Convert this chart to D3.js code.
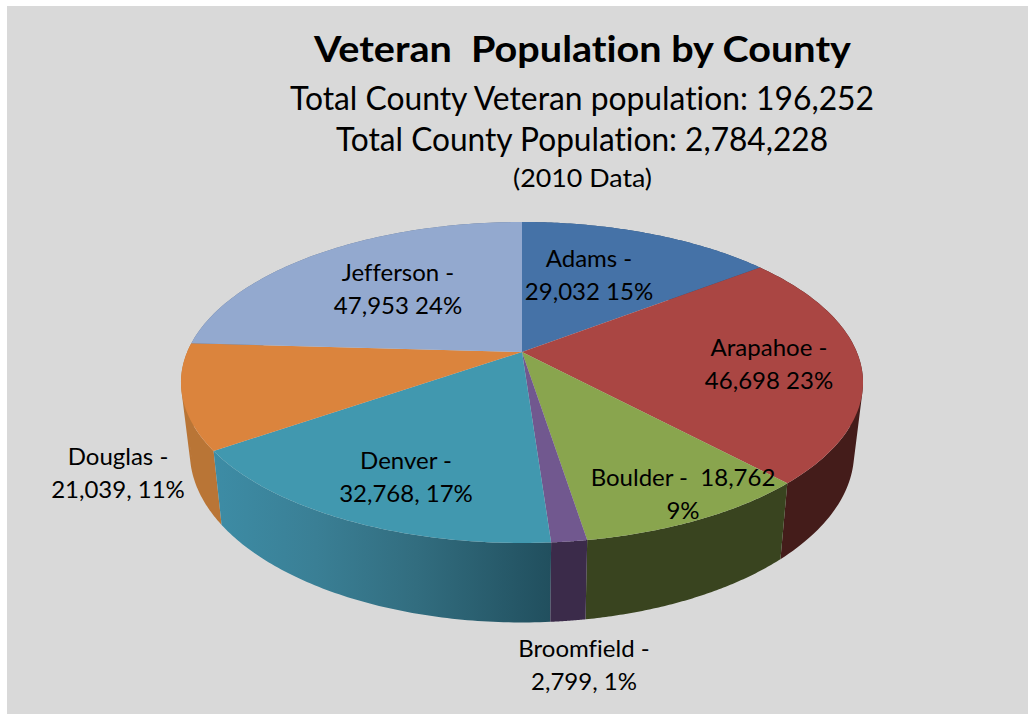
<!DOCTYPE html>
<html>
<head>
<meta charset="utf-8">
<title>Veteran Population by County</title>
<script src="https://cdn.jsdelivr.net/npm/d3@7/dist/d3.min.js"></script>
<style>
  html, body { margin: 0; padding: 0; background: #fff; }
  svg { display: block; }
  text { font-family: Lato, "Open Sans", sans-serif; fill: #000; font-variant-ligatures: none; }
</style>
</head>
<body>
<svg id="chart" width="1028" height="714"></svg>
<script>
// County veteran counts, clockwise from twelve o'clock
const counties = ["Adams", "Arapahoe", "Boulder", "Broomfield", "Denver", "Douglas", "Jefferson"];
const veterans = [29032, 46698, 18762, 2799, 32768, 21039, 47953];

// Slice label text, one entry per line
const labelLines = [
  ["Adams -", "29,032 15%"],
  ["Arapahoe -", "46,698 23%"],
  ["Boulder -  18,762", "9%"],
  ["Broomfield -", "2,799, 1%"],
  ["Denver -", "32,768, 17%"],
  ["Douglas -", "21,039, 11%"],
  ["Jefferson -", "47,953 24%"]
];

const titleLines = [
  "Veteran  Population by County",
  "Total County Veteran population: 196,252",
  "Total County Population: 2,784,228",
  "(2010 Data)"
];

// Styling and layout, kept apart from the values
const topColours = ["#4572A7", "#AA4643", "#89A54E", "#71588F", "#4198AF", "#DB843D", "#93A9CF"];
const sideColours = ["#2f4e74", "#441c1a", "#39441f", "#3b2b4a", null, "#b97536", "#66768f"];
const labelAnchors = [[589, 267], [769, 356], [683, 486], [584, 657], [406, 469], [118, 465], [398, 281]];
const titleStyles = [
  { x: 582.5, y: 62, size: 37, weight: 700, width: 537 },
  { x: 582, y: 110, size: 32, weight: 400, width: 584 },
  { x: 582, y: 151, size: 32, weight: 400, width: 492 },
  { x: 582.5, y: 187, size: 25, weight: 400, width: 139 }
];

const svg = d3.select("#chart");

// Grey panel behind everything
svg.append("rect").attr("x", 7).attr("y", 6).attr("width", 1021).attr("height", 708).attr("fill", "#d9d9d9");

// Perspective projection of the pie disc: near edge is drawn larger than far edge
const apex = { x: 522, y: 352 };
const tilt = 0.19, spreadX = 334.8, spreadY = 154.7;

function projectTop(a) {
  const X = Math.sin(a), Y = -Math.cos(a);
  const w = 1 - tilt * Y;
  return [apex.x + spreadX * X / w, apex.y + spreadY * Y / w];
}
// Lower rim of the extruded disc
const lowerBase = 420, lowerScaleX = 0.974, lowerScaleY = 1.06;
function projectBottom(a) {
  const [x, y] = projectTop(a);
  return [apex.x + (x - apex.x) * lowerScaleX, lowerBase + (y - apex.y) * lowerScaleY];
}

const arcAngles = (s, e) => d3.range(0, 81).map(i => s + (e - s) * i / 80);
const line = d3.line();
const slices = d3.pie().sort(null).value(d => d)(veterans);

// A wall is a run of small quads, each wound the same way so the fill has no holes
function wallPath(s) {
  const angs = arcAngles(s.startAngle, s.endAngle);
  return d3.pairs(angs).map(([a, b]) => {
    const quad = [projectTop(a), projectTop(b), projectBottom(b), projectBottom(a)];
    if (d3.polygonArea(quad) < 0) quad.reverse();
    return line(quad) + "Z";
  }).join("");
}

// Denver's wall darkens from left to right
const defs = svg.append("defs");
const wallGrad = defs.append("linearGradient").attr("id", "denverWall")
  .attr("gradientUnits", "userSpaceOnUse")
  .attr("x1", 215).attr("x2", 551).attr("y1", 0).attr("y2", 0);
[[0, "#3d8ca5"], [0.3, "#3a7f95"], [0.6, "#326d7f"], [1, "#214f5e"]].forEach(([o, c]) =>
  wallGrad.append("stop").attr("offset", o).attr("stop-color", c));

// Walls first, farthest from the viewer at the back
const wallOrder = slices.map((s, i) => ({ s, i }))
  .sort((p, q) => projectTop((p.s.startAngle + p.s.endAngle) / 2)[1] - projectTop((q.s.startAngle + q.s.endAngle) / 2)[1]);

svg.append("g").attr("class", "walls").selectAll("path").data(wallOrder).join("path")
  .attr("d", ({ s }) => wallPath(s))
  .attr("fill", ({ i }) => sideColours[i] || "url(#denverWall)");

// Top face wedges
svg.append("g").attr("class", "wedges").selectAll("path").data(slices).join("path")
  .attr("d", s => line([[apex.x, apex.y]].concat(arcAngles(s.startAngle, s.endAngle).map(projectTop))) + "Z")
  .attr("fill", (s, i) => topColours[i]);

// Heading block
svg.append("g").selectAll("text").data(titleLines).join("text")
  .attr("text-anchor", "middle")
  .attr("x", (d, i) => titleStyles[i].x)
  .attr("y", (d, i) => titleStyles[i].y)
  .attr("font-size", (d, i) => titleStyles[i].size)
  .attr("font-weight", (d, i) => titleStyles[i].weight)
  .attr("textLength", (d, i) => titleStyles[i].width)
  .attr("lengthAdjust", "spacingAndGlyphs")
  .style("white-space", "pre")
  .text(d => d);

// Slice labels
const labels = svg.append("g").selectAll("g").data(labelLines).join("g")
  .attr("transform", (d, i) => `translate(${labelAnchors[i][0]},${labelAnchors[i][1]})`);
labels.selectAll("text").data(d => d).join("text")
  .attr("text-anchor", "middle")
  .attr("y", (d, i) => i * 32.5)
  .attr("font-size", 24)
  .style("white-space", "pre")
  .text(d => d);
</script>
</body>
</html>
